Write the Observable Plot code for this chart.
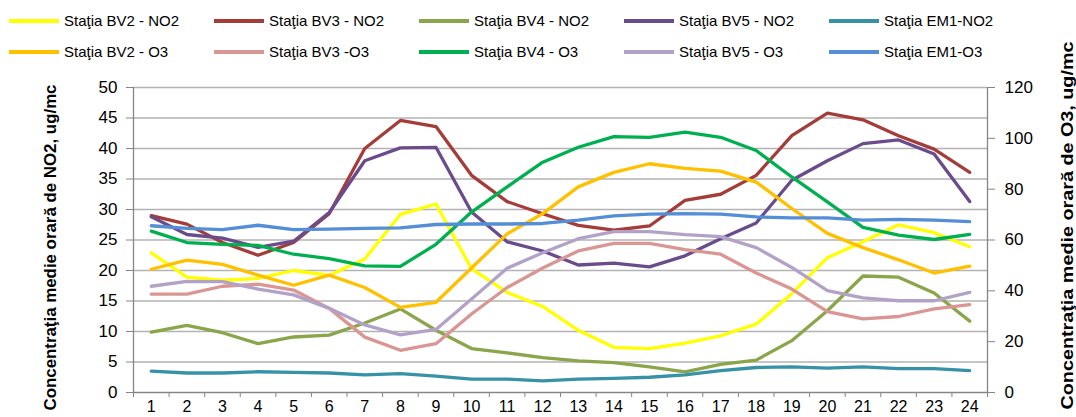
<!DOCTYPE html>
<html><head><meta charset="utf-8">
<script src="https://cdn.jsdelivr.net/npm/d3@7"></script>
<script src="https://cdn.jsdelivr.net/npm/@observablehq/plot@0.6"></script>
<style>
body{margin:0;background:#fff;font-family:"Liberation Sans",Arial,sans-serif;}
#legend{position:relative;box-sizing:border-box;height:70px;width:1076px;padding:5px 0 0 9px;display:grid;grid-template-columns:repeat(5,205px);grid-auto-rows:31px;}
.item{font-size:15px;color:#000;display:flex;align-items:center;white-space:nowrap;}
.sw{width:50px;height:4px;margin-right:5px;flex:none;}
#chart svg{overflow:visible;display:block;}
</style></head><body>
<div id="legend"></div><div id="chart"></div>
<script>
const hours = [1,2,3,4,5,6,7,8,9,10,11,12,13,14,15,16,17,18,19,20,21,22,23,24];

// NO2 (left axis, ug/mc)
const bv2_no2 = [22.9,18.9,18.4,18.7,20.0,19.2,21.9,29.2,30.9,20.3,16.4,14.1,10.2,7.4,7.2,8.1,9.3,11.2,16.2,22.1,24.7,27.5,26.2,23.9];
const bv3_no2 = [29.0,27.6,24.6,22.5,24.6,29.3,40.0,44.6,43.6,35.6,31.3,29.3,27.4,26.6,27.3,31.5,32.5,35.6,42.1,45.8,44.7,42.1,39.9,36.1];
const bv4_no2 = [9.9,11.0,9.8,8.0,9.1,9.4,11.4,13.7,10.2,7.2,6.5,5.7,5.2,4.9,4.2,3.4,4.6,5.3,8.5,13.4,19.1,18.9,16.3,11.7];
const bv5_no2 = [28.8,25.9,25.3,23.8,24.8,29.5,38.0,40.1,40.2,29.6,24.7,23.2,20.9,21.2,20.6,22.4,25.2,27.8,34.8,38.0,40.8,41.4,39.1,31.3];
const em1_no2 = [3.5,3.2,3.2,3.4,3.3,3.2,2.9,3.1,2.7,2.2,2.2,1.9,2.2,2.3,2.5,2.9,3.6,4.1,4.2,4.0,4.2,3.9,3.9,3.6];

// O3 (right axis, ug/mc)
const bv2_o3 = [48.5,52.1,50.4,46.2,42.2,46.2,41.3,33.5,35.5,49.0,62.4,70.4,80.9,86.6,90.0,88.2,87.1,82.8,72.4,62.6,57.0,52.2,47.0,49.7];
const bv3_o3 = [38.7,38.7,41.8,42.6,40.3,33.1,21.8,16.6,19.2,30.9,41.3,49.0,55.7,58.7,58.7,56.2,54.4,47.0,40.7,31.8,29.0,29.9,32.9,34.6];
const bv4_o3 = [63.5,59.0,58.3,57.9,54.4,52.7,49.8,49.6,58.3,71.0,80.9,90.6,96.5,100.7,100.4,102.4,100.4,95.2,84.8,75.0,65.0,61.9,60.2,62.2];
const bv5_o3 = [41.8,43.7,43.6,40.7,38.4,33.1,26.6,22.7,24.8,36.8,48.9,55.0,60.5,63.3,63.3,62.1,61.3,57.0,49.2,40.1,37.2,36.1,36.1,39.4];
const em1_o3 = [65.6,64.6,64.1,65.8,64.1,64.3,64.6,64.8,66.1,66.3,66.3,66.5,67.8,69.5,70.2,70.4,70.2,69.1,68.7,68.7,67.8,68.1,67.8,67.2];

const no2Names = ["Staţia BV2 - NO2","Staţia BV3 - NO2","Staţia BV4 - NO2","Staţia BV5 - NO2","Staţia EM1-NO2"];
const o3Names  = ["Staţia BV2 - O3","Staţia BV3 -O3","Staţia BV4 - O3","Staţia BV5 - O3","Staţia EM1-O3"];
const no2Colors = ["#FFFF00","#A43D3A","#8BA54B","#6A4C8D","#3792A8"];
const o3Colors  = ["#FFC000","#D99693","#00B050","#B3A2C8","#548ED6"];
const no2Ticks = [0,5,10,15,20,25,30,35,40,45,50];
const o3Ticks = [0,20,40,60,80,100,120];
const leftTitle = "Concentraţia medie orară de NO2, ug/mc";
const rightTitle = "Concentraţia medie orară de O3, ug/mc";

const no2Series = [bv2_no2,bv3_no2,bv4_no2,bv5_no2,em1_no2];
const o3Series = [bv2_o3,bv3_o3,bv4_o3,bv5_o3,em1_o3];
const k = 50/120; // O3 -> left-axis units

// legend (row 1: NO2, row 2: O3)
const legend = d3.select("#legend");
[[no2Names,no2Colors],[o3Names,o3Colors]].forEach(([names,colors])=>{
  names.forEach((n,i)=>{
    const it = legend.append("div").attr("class","item");
    it.append("div").attr("class","sw").style("background",colors[i]);
    it.append("span").text(n);
  });
});

const rows = [];
no2Series.forEach((vals,s)=>vals.forEach((v,i)=>rows.push({series:no2Names[s],hour:hours[i],v})));
o3Series.forEach((vals,s)=>vals.forEach((v,i)=>rows.push({series:o3Names[s],hour:hours[i],v:v*k})));

const axisColor = "#868686";
const plot = Plot.plot({
  width: 1076, height: 347,
  marginTop: 17, marginBottom: 25, marginLeft: 133, marginRight: 89,
  style: {fontFamily: "'Liberation Sans', Arial, sans-serif", fontSize: "16px", color: "#000", background: "#fff", overflow: "visible"},
  x: {domain: [0.5, 24.5], axis: null},
  y: {domain: [0, 50], axis: null},
  color: {domain: [...no2Names, ...o3Names], range: [...no2Colors, ...o3Colors]},
  marks: [
    Plot.gridY(no2Ticks.slice(1), {stroke: "#b3b3b3", strokeOpacity: 1, strokeWidth: 1.4}),
    Plot.axisY({ticks: no2Ticks, tickSize: 7, tickPadding: 9, stroke: axisColor, fontSize: 17, label: null}),
    Plot.axisY({anchor: "right", ticks: o3Ticks.map(t=>t*k), tickFormat: d=>Math.round(d/k), tickSize: 7, tickPadding: 10, stroke: axisColor, fontSize: 17, label: null}),
    Plot.axisX({ticks: hours, tickSize: 0, tickPadding: 8, fontSize: 16, label: null}),
    Plot.axisX({ticks: d3.range(0.5, 25, 1), tickSize: 5, tickFormat: () => "", stroke: axisColor, label: null}),
    Plot.ruleX([0.5, 24.5], {stroke: axisColor, strokeWidth: 1.3}),
    Plot.ruleY([0], {stroke: axisColor, strokeWidth: 1.3}),
    Plot.line(rows, {x: "hour", y: "v", z: "series", stroke: "series", strokeWidth: 3.3, strokeLinejoin: "round", curve: "linear"})
  ]
});

const svg = d3.select(plot);
const ys = plot.scale("y").range; // [bottom, top]
const cy = (ys[0] + ys[1]) / 2;
svg.append("text")
  .attr("transform", `translate(50,${cy + 8}) rotate(-90)`)
  .attr("text-anchor","middle").attr("dominant-baseline","central")
  .attr("font-weight","bold").attr("font-size",16)
  .attr("textLength", 326).attr("lengthAdjust","spacingAndGlyphs")
  .text(leftTitle);
svg.append("text")
  .attr("transform", `translate(1067,${cy - 14}) rotate(-90)`)
  .attr("text-anchor","middle").attr("dominant-baseline","central")
  .attr("font-weight","bold").attr("font-size",17)
  .attr("textLength", 368).attr("lengthAdjust","spacingAndGlyphs")
  .text(rightTitle);

document.getElementById("chart").appendChild(plot);
</script>
</body></html>
